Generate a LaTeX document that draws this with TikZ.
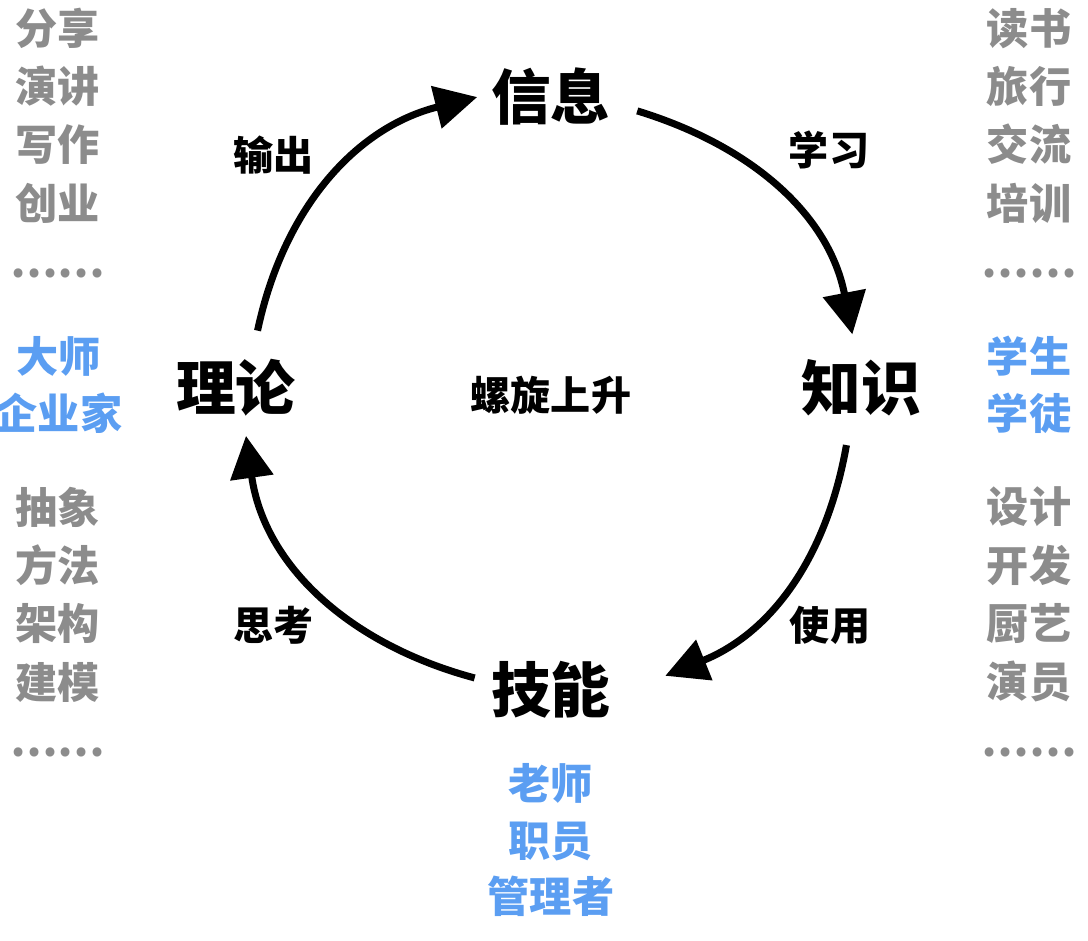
\documentclass[tikz,border=0pt]{standalone}
\usepackage{fontspec}
\setmainfont{Noto Sans CJK SC}
\usetikzlibrary{arrows.meta}
\definecolor{listgray}{HTML}{8C8C8C}
\definecolor{roleblue}{HTML}{5B9EF2}
\begin{document}
\begin{tikzpicture}[
  stage/.style={font=\fontsize{17}{20}\selectfont\bfseries},
  verb/.style={font=\fontsize{11.4}{14}\selectfont\bfseries},
  items/.style={font=\fontsize{12}{16.6}\selectfont\bfseries, text=listgray, align=center, inner sep=0pt},
  roles/.style={font=\fontsize{12}{16.2}\selectfont\bfseries, text=roleblue, align=center, inner sep=0pt},
  cyc/.style={line width=2pt, -{Triangle[length=12pt,width=12pt]}}
]
  \useasboundingbox (-5.51,-5.47) rectangle (5.37,3.93);

  % Cuatro etapas del ciclo
  \node[stage] (xinxi) at (0,2.96) {信息};
  \node[stage] (zhishi) at (3.10,0.05) {知识};
  \node[stage] (jineng) at (0,-2.97) {技能};
  \node[stage] (lilun) at (-3.15,0.05) {理论};
  \node[verb] (luoxuan) at (0,-0.02) {螺旋上升};

  % Puntos sobre la circunferencia
  \coordinate (a1) at (73:2.95);  \coordinate (b1) at (11:3.07);
  \coordinate (a2) at (-10:3.0);  \coordinate (b2) at (-68:3.05);
  \coordinate (a3) at (-105:2.95); \coordinate (b3) at (-172:3.08);
  \coordinate (a4) at (168:3.0);  \coordinate (b4) at (104:3.05);

  % Flechas del ciclo
  \draw[cyc] (a1) to[out=-17, in=101] (b1);
  \draw[cyc] (a2) to[out=-100, in=22] (b2);
  \draw[cyc] (a3) to[out=165, in=-82] (b3);
  \draw[cyc] (a4) to[out=78, in=-166] (b4);

  % Etiquetas de las flechas
  \node[verb] (shuchu) at (-2.77,2.38) {输出};
  \node[verb] (xuexi) at (2.78,2.43) {学习};
  \node[verb] (shiyong) at (2.79,-2.32) {使用};
  \node[verb] (sikao) at (-2.77,-2.32) {思考};

  % Columna izquierda
  \node[items] (izq-arriba) at (-4.93,2.50) {分享\\演讲\\写作\\创业\\……};
  \node[roles] (izq-roles) at (-4.92,0.08) {大师\\企业家};
  \node[items] (izq-abajo) at (-4.93,-2.29) {抽象\\方法\\架构\\建模\\……};

  % Columna derecha
  \node[items] (der-arriba) at (4.78,2.50) {读书\\旅行\\交流\\培训\\……};
  \node[roles] (der-roles) at (4.78,0.08) {学生\\学徒};
  \node[items] (der-abajo) at (4.78,-2.29) {设计\\开发\\厨艺\\演员\\……};

  % Debajo de habilidades
  \node[roles] (abajo-roles) at (0,-4.47) {老师\\职员\\管理者};
\end{tikzpicture}
\end{document}
